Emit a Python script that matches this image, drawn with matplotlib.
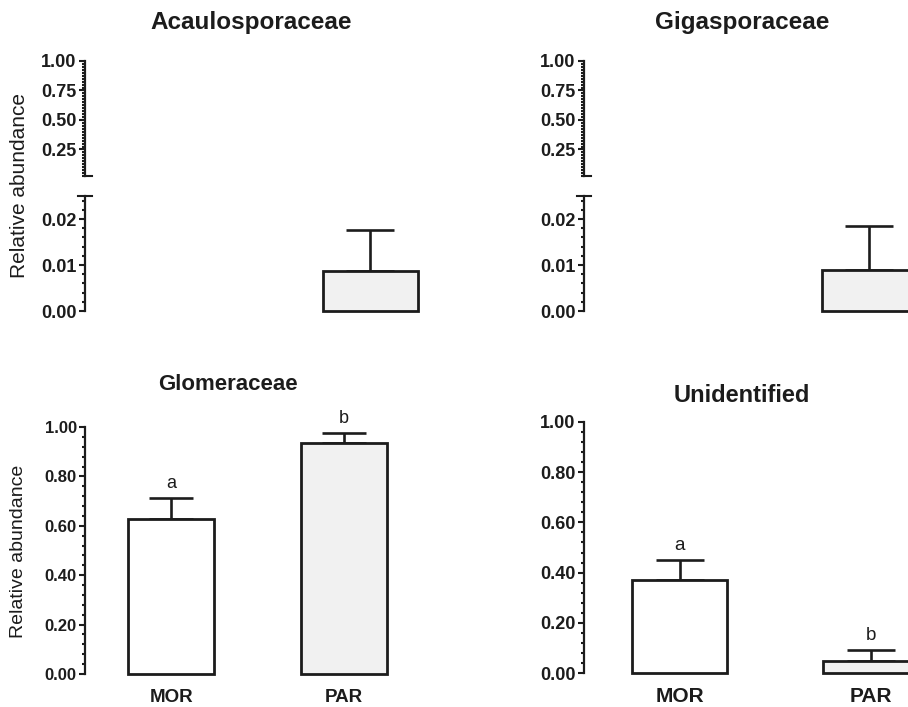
import numpy as np
import matplotlib.pyplot as plt
from matplotlib.ticker import MultipleLocator, FixedLocator, FormatStrFormatter

plt.rcParams['font.family'] = ['Liberation Sans', 'DejaVu Sans']
plt.rcParams['font.weight'] = 'bold'

# Sites (x categories)
sites = ['MOR', 'PAR']

# Relative abundance (mean) and upper error (SE) per family
acaulo_mean = [0.0, 0.0088]
acaulo_err = [0.0, 0.0089]
giga_mean = [0.0, 0.0090]
giga_err = [0.0, 0.0095]
glom_mean = [0.628, 0.934]
glom_err = [0.085, 0.043]
glom_letters = ['a', 'b']
unid_mean = [0.372, 0.046]
unid_err = [0.079, 0.046]
unid_letters = ['a', 'b']

INK = '#1c1c1c'
FILLS = ['white', '#f1f1f1']
W, H = 908, 707


def fig_rect(x0, y_top, y_bot, width):
    # pixel box -> figure fraction [left, bottom, width, height]
    return [x0 / W, 1 - y_bot / H, width / W, (y_bot - y_top) / H]


def style_axis(ax, size, major_len=4.5, minor_len=2.5):
    for s in ['top', 'right', 'bottom']:
        ax.spines[s].set_visible(False)
    ax.spines['left'].set_linewidth(1.6)
    ax.spines['left'].set_color(INK)
    ax.tick_params(axis='y', which='major', length=major_len, width=1.5,
                   color=INK, labelsize=size, pad=1.5, labelcolor=INK)
    ax.tick_params(axis='y', which='minor', length=minor_len, width=1.5, color=INK)
    ax.set_xlim(-0.5, 1.5)
    ax.set_facecolor('none')


def draw_bars(ax, mean, err, capsize):
    for i, (m, e) in enumerate(zip(mean, err)):
        if m <= 0:  # nothing drawn for empty groups
            continue
        ax.errorbar(i, m, yerr=[[0], [e]], fmt='none', ecolor=INK,
                    elinewidth=1.9, capsize=capsize, capthick=1.9, zorder=1)
        ax.bar(i, m, width=0.5, color=FILLS[i], edgecolor=INK,
               linewidth=2.0, zorder=2, clip_on=False)


def add_letters(ax, mean, err, letters, size):
    for i, (m, e, t) in enumerate(zip(mean, err, letters)):
        ax.annotate(t, (i, m + e), xytext=(0, 7), textcoords='offset points',
                    ha='center', va='baseline', fontsize=size,
                    fontweight='normal', color=INK)


def broken_panel(fig, x0, width, mean, err, title, title_x):
    # upper segment 0.025 - 1.00
    up = fig.add_axes(fig_rect(x0, 61, 176, width))
    style_axis(up, 13)
    up.set_ylim(0.025, 1.0)
    up.yaxis.set_major_locator(FixedLocator([0.25, 0.5, 0.75, 1.0]))
    up.yaxis.set_minor_locator(MultipleLocator(0.025))
    up.yaxis.set_major_formatter(FormatStrFormatter('%.2f'))
    up.set_xticks([])
    tr = up.get_yaxis_transform()
    up.plot([0, 0.018], [0.025, 0.025], color=INK, lw=1.5, transform=tr, clip_on=False)

    # lower segment 0 - 0.025
    lo = fig.add_axes(fig_rect(x0, 196, 311, width))
    style_axis(lo, 13)
    lo.set_ylim(0, 0.025)
    lo.yaxis.set_major_locator(FixedLocator([0.0, 0.01, 0.02]))
    lo.yaxis.set_minor_locator(MultipleLocator(0.002))
    lo.yaxis.set_major_formatter(FormatStrFormatter('%.2f'))
    lo.set_xticks([])
    tr = lo.get_yaxis_transform()
    lo.plot([-0.018, 0.018], [0.025, 0.025], color=INK, lw=1.5, transform=tr, clip_on=False)
    draw_bars(lo, mean, err, capsize=17)

    fig.text(title_x / W, 1 - 29.5 / H, title, ha='center', va='baseline',
             fontsize=17.5, color=INK)
    return up, lo


def full_panel(fig, x0, y_top, y_bot, width, mean, err, letters, title,
               title_x, title_y, tsize, lsize, xsize, capsize, xpad):
    ax = fig.add_axes(fig_rect(x0, y_top, y_bot, width))
    style_axis(ax, tsize)
    ax.set_ylim(0, 1.0)
    ax.yaxis.set_major_locator(MultipleLocator(0.2))
    ax.yaxis.set_minor_locator(MultipleLocator(0.04))
    ax.yaxis.set_major_formatter(FormatStrFormatter('%.2f'))
    ax.set_xticks([0, 1], sites)
    ax.tick_params(axis='x', length=0, pad=xpad, labelsize=xsize, labelcolor=INK)
    draw_bars(ax, mean, err, capsize=capsize)
    add_letters(ax, mean, err, letters, lsize)
    fig.text(title_x / W, 1 - title_y / H, title, ha='center', va='baseline',
             fontsize=17 if title == 'Unidentified' else 16, color=INK)
    return ax


fig = plt.figure(figsize=(W / 100, H / 100), dpi=100)

broken_panel(fig, 85, 380, acaulo_mean, acaulo_err, 'Acaulosporaceae', 251)
broken_panel(fig, 584, 380, giga_mean, giga_err, 'Gigasporaceae', 742)

full_panel(fig, 85, 427, 674, 345, glom_mean, glom_err, glom_letters,
           'Glomeraceae', 228, 390, 12, 13, 13.5, 15.5, 10.5)
full_panel(fig, 584, 422, 673, 382, unid_mean, unid_err, unid_letters,
           'Unidentified', 742, 402, 13, 13.5, 15, 17, 10)

# shared y labels for the left column
fig.text(20 / W, 1 - 186 / H, 'Relative abundance', rotation=90, ha='center',
         va='center', fontsize=15, fontweight='normal', color=INK)
fig.text(19 / W, 1 - 551 / H, 'Relative abundance', rotation=90, ha='center',
         va='center', fontsize=14, fontweight='normal', color=INK)

fig.savefig('out.png', dpi=100, facecolor='white')
